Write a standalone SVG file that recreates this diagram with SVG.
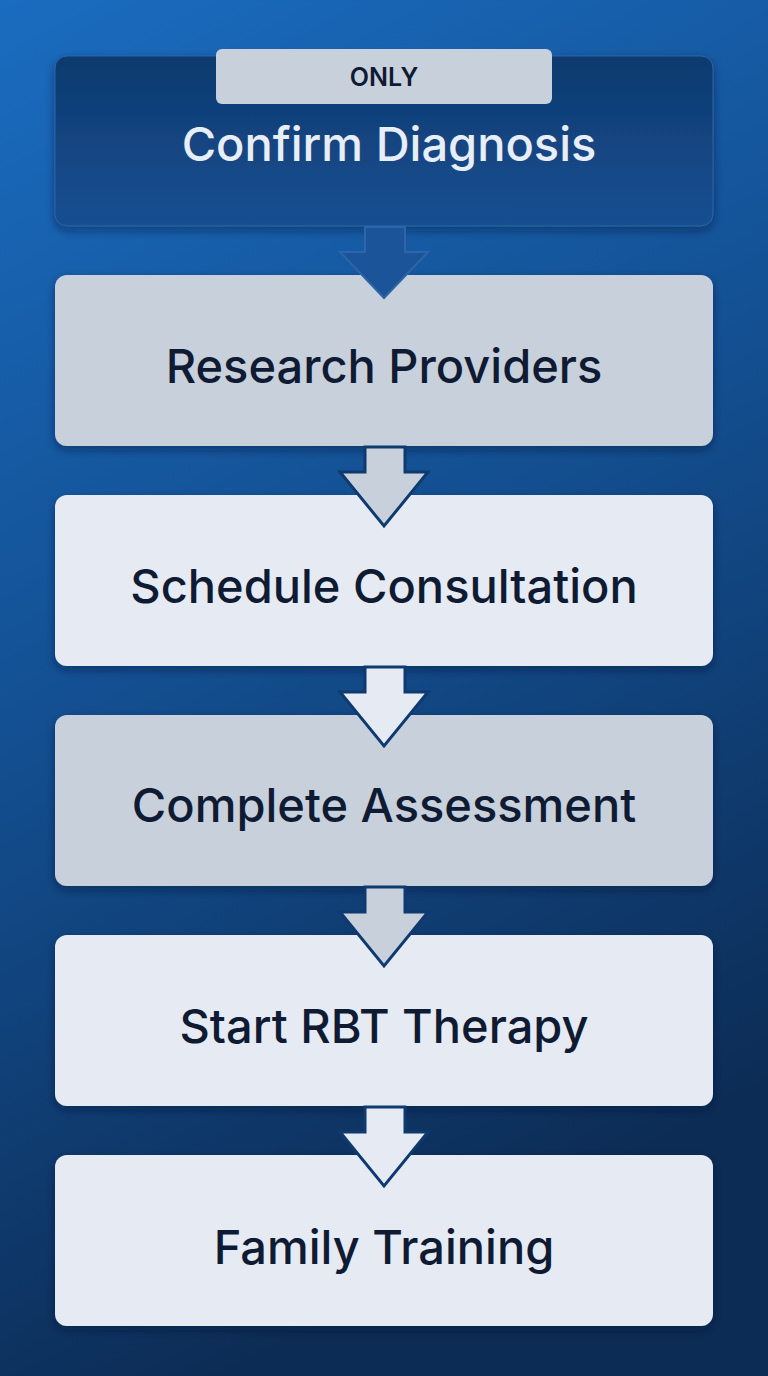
<svg xmlns="http://www.w3.org/2000/svg" width="768" height="1376" viewBox="0 0 768 1376">
<defs>
<linearGradient id="bg" x1="0" y1="0" x2="0.3" y2="1">
<stop offset="0" stop-color="#1a6cc0"/><stop offset="0.5" stop-color="#134f91"/><stop offset="1" stop-color="#0c2c55"/>
</linearGradient>
<linearGradient id="dark" x1="0" y1="0" x2="0" y2="1">
<stop offset="0" stop-color="#0f3a6e"/><stop offset="1" stop-color="#154f92"/>
</linearGradient>
<filter id="sh" x="-10%" y="-10%" width="120%" height="130%"><feDropShadow dx="0" dy="4" stdDeviation="5" flood-color="#061a36" flood-opacity="0.45"/></filter>
</defs>
<style>
.box{filter:url(#sh)}
.t{font-family:Inter,"Liberation Sans",sans-serif;font-size:47px;font-weight:500;text-anchor:middle;fill:#0f1b33}
.ar{stroke:#0e3a70;stroke-width:3;stroke-linejoin:miter}
</style>
<rect width="768" height="1376" fill="url(#bg)"/>
<g id="n1"><rect class="box" x="55" y="56" width="658" height="170" rx="12" fill="url(#dark)" stroke="#2c65a8"/>
<rect x="216" y="49" width="336" height="55" rx="6" fill="#c8d0dc"/>
<text x="384" y="86" style="font-family:Inter,'Liberation Sans',sans-serif;font-size:25px;font-weight:600;text-anchor:middle;fill:#0f1b33">ONLY</text>
<text class="t" x="389" y="161" style="fill:#e8eef8">Confirm Diagnosis</text></g>
<g id="n2"><rect class="box" x="55" y="275" width="658" height="171" rx="12" fill="#c8d0dc"/><text class="t" x="384" y="383">Research Providers</text></g>
<g id="n3"><rect class="box" x="55" y="495" width="658" height="171" rx="12" fill="#e6eaf2"/><text class="t" x="384" y="603">Schedule Consultation</text></g>
<g id="n4"><rect class="box" x="55" y="715" width="658" height="171" rx="12" fill="#c8d0dc"/><text class="t" x="384" y="822">Complete Assessment</text></g>
<g id="n5"><rect class="box" x="55" y="935" width="658" height="171" rx="12" fill="#e6eaf2"/><text class="t" x="384" y="1043">Start RBT Therapy</text></g>
<g id="n6"><rect class="box" x="55" y="1155" width="658" height="171" rx="12" fill="#e6eaf2"/><text class="t" x="384" y="1264">Family Training</text></g>
<g id="connectors">
<polygon points="365,227 405,227 405,252 428,252 384,298 340,252 365,252" fill="#1b5498" stroke="#2c65a8" stroke-width="2"/>
<polygon class="ar" points="365,447 405,447 405,472 428,472 384,526 340,472 365,472" fill="#c8d0dc"/>
<polygon class="ar" points="365,667 405,667 405,692 428,692 384,746 340,692 365,692" fill="#e6eaf2"/>
<polygon class="ar" points="365,887 405,887 405,912 428,912 384,966 340,912 365,912" fill="#c8d0dc"/>
<polygon class="ar" points="365,1107 405,1107 405,1132 428,1132 384,1186 340,1132 365,1132" fill="#e6eaf2"/>
</g>
</svg>
